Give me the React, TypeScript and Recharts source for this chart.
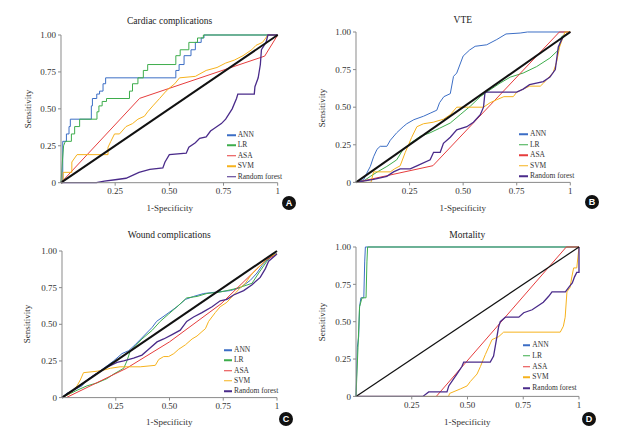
import React from "react";
import { LineChart, Line, XAxis, YAxis } from "recharts";

type Pt = [number, number];

// Cardiac complications
const cardiacANN: Pt[] = [[0,0],[0.008,0],[0.008,0.28],[0.025,0.28],[0.025,0.33],[0.037,0.33],[0.037,0.38],[0.043,0.38],[0.043,0.43],[0.14,0.43],[0.14,0.52],[0.145,0.52],[0.145,0.57],[0.165,0.57],[0.165,0.6],[0.178,0.6],[0.178,0.62],[0.194,0.62],[0.194,0.67],[0.206,0.67],[0.206,0.71],[0.53,0.71],[0.53,0.76],[0.545,0.76],[0.545,0.8],[0.568,0.8],[0.568,0.86],[0.6,0.86],[0.6,0.9],[0.62,0.9],[0.62,0.95],[0.647,0.95],[0.647,0.98],[0.66,0.98],[0.66,1],[1,1]];
const cardiacLR: Pt[] = [[0,0],[0.006,0.14],[0.012,0.25],[0.02,0.28],[0.048,0.28],[0.048,0.33],[0.063,0.33],[0.063,0.38],[0.086,0.38],[0.086,0.43],[0.166,0.43],[0.166,0.48],[0.175,0.48],[0.175,0.52],[0.19,0.52],[0.19,0.55],[0.21,0.55],[0.21,0.57],[0.316,0.57],[0.316,0.62],[0.33,0.62],[0.33,0.67],[0.355,0.67],[0.355,0.71],[0.38,0.71],[0.38,0.76],[0.4,0.76],[0.4,0.8],[0.53,0.8],[0.53,0.86],[0.55,0.86],[0.55,0.9],[0.59,0.9],[0.59,0.95],[0.63,0.95],[0.63,0.98],[0.657,0.98],[0.657,1],[1,1]];
const cardiacASA: Pt[] = [[0,0],[0.363,0.571],[0.94,0.857],[1,1]];
const cardiacSVM: Pt[] = [[0,0],[0.01,0],[0.01,0.07],[0.05,0.07],[0.05,0.14],[0.074,0.19],[0.217,0.19],[0.217,0.24],[0.23,0.28],[0.247,0.33],[0.27,0.33],[0.3,0.38],[0.33,0.4],[0.355,0.43],[0.385,0.45],[0.4,0.48],[0.424,0.52],[0.455,0.57],[0.485,0.62],[0.5,0.64],[0.525,0.67],[0.547,0.71],[0.62,0.72],[0.67,0.76],[0.72,0.78],[0.76,0.81],[0.8,0.83],[0.84,0.86],[0.88,0.9],[0.9,0.93],[0.93,0.95],[0.945,0.98],[0.954,1],[1,1]];
const cardiacRF: Pt[] = [[0,0],[0.163,0],[0.2,0.01],[0.25,0.02],[0.3,0.03],[0.33,0.05],[0.36,0.07],[0.41,0.09],[0.47,0.1],[0.48,0.14],[0.5,0.19],[0.578,0.2],[0.59,0.24],[0.62,0.27],[0.64,0.3],[0.67,0.31],[0.69,0.35],[0.71,0.37],[0.74,0.4],[0.76,0.43],[0.79,0.5],[0.81,0.57],[0.816,0.6],[0.892,0.6],[0.895,0.65],[0.9,0.67],[0.91,0.71],[0.92,0.8],[0.925,0.9],[0.946,0.95],[0.955,1],[1,1]];

// VTE
const vteANN: Pt[] = [[0,0],[0.036,0.018],[0.05,0.06],[0.067,0.107],[0.082,0.17],[0.098,0.22],[0.113,0.24],[0.144,0.24],[0.16,0.28],[0.19,0.33],[0.22,0.37],[0.237,0.39],[0.27,0.417],[0.315,0.44],[0.346,0.46],[0.377,0.48],[0.39,0.53],[0.41,0.57],[0.44,0.59],[0.455,0.705],[0.47,0.727],[0.5,0.84],[0.53,0.88],[0.556,0.905],[0.61,0.915],[0.657,0.95],[0.7,0.987],[0.766,0.993],[0.8,1],[1,1]];
const vteLR: Pt[] = [[0,0],[0.036,0.01],[0.067,0.04],[0.1,0.07],[0.144,0.106],[0.19,0.15],[0.22,0.22],[0.253,0.26],[0.3,0.306],[0.346,0.33],[0.39,0.36],[0.44,0.395],[0.486,0.45],[0.533,0.506],[0.58,0.57],[0.626,0.616],[0.672,0.66],[0.72,0.7],[0.78,0.727],[0.843,0.77],[0.905,0.827],[0.944,0.88],[0.96,0.97],[1,1]];
const vteASA: Pt[] = [[0,0],[0.359,0.111],[0.949,1],[1,1]];
const vteSVM: Pt[] = [[0,0],[0.07,0],[0.082,0.07],[0.16,0.07],[0.18,0.09],[0.206,0.11],[0.23,0.2],[0.26,0.3],[0.284,0.37],[0.315,0.39],[0.36,0.4],[0.408,0.42],[0.44,0.45],[0.47,0.5],[0.595,0.5],[0.626,0.53],[0.657,0.55],[0.69,0.57],[0.734,0.57],[0.75,0.6],[0.78,0.62],[0.81,0.64],[0.86,0.64],[0.875,0.66],[0.9,0.7],[0.92,0.73],[0.936,0.8],[0.95,0.9],[0.967,0.97],[0.975,1],[1,1]];
const vteRF: Pt[] = [[0,0],[0.082,0.02],[0.144,0.04],[0.175,0.07],[0.206,0.09],[0.253,0.09],[0.284,0.11],[0.346,0.15],[0.362,0.2],[0.393,0.2],[0.408,0.26],[0.44,0.3],[0.47,0.35],[0.517,0.37],[0.548,0.4],[0.58,0.45],[0.595,0.5],[0.602,0.6],[0.75,0.6],[0.78,0.62],[0.81,0.65],[0.874,0.67],[0.905,0.7],[0.93,0.75],[0.944,0.9],[0.967,0.97],[1,1]];

// Wound complications
const woundANN: Pt[] = [[0,0],[0.023,0.03],[0.054,0.05],[0.093,0.08],[0.116,0.12],[0.147,0.15],[0.194,0.2],[0.24,0.25],[0.279,0.3],[0.31,0.32],[0.34,0.36],[0.38,0.42],[0.42,0.48],[0.44,0.52],[0.488,0.57],[0.535,0.62],[0.574,0.67],[0.612,0.69],[0.659,0.71],[0.72,0.72],[0.783,0.73],[0.83,0.75],[0.876,0.8],[0.907,0.85],[0.93,0.9],[0.96,0.95],[0.98,0.98],[1,0.98]];
const woundLR: Pt[] = [[0,0],[0.07,0.05],[0.116,0.08],[0.163,0.1],[0.21,0.13],[0.24,0.16],[0.287,0.2],[0.302,0.25],[0.318,0.32],[0.34,0.35],[0.372,0.4],[0.42,0.46],[0.457,0.52],[0.496,0.57],[0.543,0.63],[0.58,0.68],[0.628,0.69],[0.674,0.71],[0.736,0.72],[0.798,0.74],[0.845,0.76],[0.884,0.78],[0.915,0.85],[0.953,0.93],[0.98,0.97],[1,0.98]];
const woundASA: Pt[] = [[0.02,0],[0.3,0.2],[0.5,0.38],[0.74,0.64],[0.95,0.94],[1,0.98]];
const woundSVM: Pt[] = [[0,0],[0.04,0.03],[0.07,0.08],[0.085,0.12],[0.1,0.17],[0.163,0.18],[0.2,0.19],[0.225,0.2],[0.27,0.21],[0.364,0.21],[0.434,0.22],[0.45,0.26],[0.473,0.28],[0.496,0.28],[0.52,0.3],[0.543,0.33],[0.574,0.36],[0.605,0.4],[0.628,0.42],[0.651,0.45],[0.667,0.47],[0.682,0.52],[0.713,0.58],[0.736,0.62],[0.767,0.65],[0.798,0.7],[0.83,0.75],[0.853,0.78],[0.876,0.83],[0.907,0.88],[0.938,0.92],[0.96,0.96],[1,0.98]];
const woundRF: Pt[] = [[0,0],[0.054,0.05],[0.1,0.1],[0.147,0.15],[0.2,0.2],[0.256,0.24],[0.287,0.25],[0.333,0.27],[0.372,0.29],[0.403,0.33],[0.442,0.38],[0.473,0.4],[0.512,0.43],[0.55,0.46],[0.58,0.52],[0.612,0.55],[0.651,0.58],[0.698,0.62],[0.736,0.66],[0.767,0.67],[0.798,0.7],[0.845,0.73],[0.884,0.77],[0.922,0.82],[0.946,0.88],[0.961,0.93],[1,0.98]];

// Mortality
const mortANN: Pt[] = [[0,0],[0.006,0.33],[0.012,0.4],[0.016,0.6],[0.022,0.66],[0.035,0.66],[0.039,0.9],[0.042,1],[1,1]];
const mortLR: Pt[] = [[0,0],[0.009,0.33],[0.016,0.6],[0.027,0.66],[0.045,0.66],[0.049,0.9],[0.052,1],[1,1]];
const mortASA: Pt[] = [[0.36,0],[0.943,1],[1,1]];
const mortSVM: Pt[] = [[0,0],[0.415,0],[0.42,0.02],[0.468,0.05],[0.498,0.07],[0.513,0.1],[0.543,0.15],[0.558,0.2],[0.58,0.28],[0.595,0.33],[0.61,0.38],[0.64,0.4],[0.662,0.43],[0.916,0.43],[0.93,0.47],[0.938,0.53],[0.946,0.7],[0.96,0.73],[0.968,0.8],[0.976,0.86],[0.99,0.86],[1,1]];
const mortRF: Pt[] = [[0,0],[0.3,0],[0.326,0.03],[0.408,0.03],[0.416,0.07],[0.43,0.1],[0.453,0.15],[0.475,0.2],[0.483,0.23],[0.602,0.23],[0.617,0.27],[0.632,0.4],[0.64,0.47],[0.647,0.5],[0.67,0.53],[0.73,0.53],[0.752,0.56],[0.79,0.58],[0.81,0.6],[0.84,0.63],[0.864,0.67],[0.879,0.7],[0.939,0.7],[0.954,0.73],[0.97,0.76],[0.98,0.8],[0.99,0.83],[1,0.83],[1,1]];

const diagonal: Pt[] = [[0,0],[1,1]];

const seriesNames = ["ANN", "LR", "ASA", "SVM", "Random forest"];
const seriesColors = ["#3b6dc5", "#3dad4b", "#e63c3c", "#f6b21c", "#4a2b8a"];
const xTicks = [0.25, 0.5, 0.75, 1];
const yTicks = [0, 0.25, 0.5, 0.75, 1];

const FONT = '"Liberation Serif", "Times New Roman", "DejaVu Serif", serif';
const AXIS = "#8a8a8a";

const toPts = (arr: Pt[]) => arr.map(([x, y]) => ({ x, y }));

type PanelProps = {
  title: string;
  letter: string;
  series: Pt[][];
  plot: { l: number; r: number; t: number; b: number };
  titleY: number;
  xLabelY: number;
  yLabelX: number;
  legend: { x: number; y: number; dy: number; line: number };
  letterPos: { x: number; y: number };
  diagWidth: number;
};

function Panel(p: PanelProps) {
  const { plot } = p;
  const yw = 30, xh = 20;
  const left = plot.l - yw - 2;
  const top = plot.t - 5;
  const width = plot.r + 5 - left;
  const height = plot.b + xh + 2 - top;
  const cx = (plot.l + plot.r) / 2;
  const cy = (plot.t + plot.b) / 2;
  const txt: React.CSSProperties = { position: "absolute", fontFamily: FONT, color: "#333", whiteSpace: "nowrap", lineHeight: 1 };
  return (
    <>
      <div style={{ position: "absolute", left, top }}>
        <LineChart width={width} height={height} margin={{ top: 5, right: 5, bottom: 2, left: 2 }}>
          <XAxis type="number" dataKey="x" domain={[0, 1]} ticks={xTicks} height={xh}
            tickFormatter={(v: number) => (v === 1 ? "1" : v.toFixed(2))}
            stroke={AXIS} tickSize={3} tickMargin={2}
            tick={{ fill: "#333", fontSize: 9, fontFamily: FONT }} />
          <YAxis type="number" dataKey="y" domain={[0, 1]} ticks={yTicks} width={yw}
            tickFormatter={(v: number) => (v === 0 ? "0" : v.toFixed(2))}
            stroke={AXIS} tickSize={3} tickMargin={2}
            tick={{ fill: "#333", fontSize: 9, fontFamily: FONT }} />
          {p.series.map((s, i) => (
            <Line key={seriesNames[i]} data={toPts(s)} dataKey="y" type="linear" stroke={seriesColors[i]}
              strokeWidth={i === 4 ? 1.3 : 1} dot={false} isAnimationActive={false} />
          ))}
          <Line data={toPts(diagonal)} dataKey="y" type="linear" stroke="#111" strokeWidth={p.diagWidth}
            dot={false} isAnimationActive={false} />
        </LineChart>
      </div>
      <div style={{ ...txt, left: cx, top: p.titleY, transform: "translate(-50%,-50%)", fontSize: 9.5, color: "#222" }}>{p.title}</div>
      <div style={{ ...txt, left: cx, top: p.xLabelY, transform: "translate(-50%,-50%)", fontSize: 9 }}>1-Specificity</div>
      <div style={{ ...txt, left: p.yLabelX, top: cy, transform: "translate(-50%,-50%) rotate(-90deg)", fontSize: 9 }}>Sensitivity</div>
      {seriesNames.map((n, i) => (
        <div key={n} style={{ ...txt, left: p.legend.x, top: p.legend.y + i * p.legend.dy, transform: "translateY(-50%)", fontSize: 7.5, display: "flex", alignItems: "center" }}>
          <span style={{ display: "inline-block", width: p.legend.line, height: 1.5, background: seriesColors[i], marginRight: 2 }} />
          {n}
        </div>
      ))}
      <div style={{ position: "absolute", left: p.letterPos.x - 7, top: p.letterPos.y - 7, width: 14, height: 14, borderRadius: "50%", background: "#111", color: "#fff", fontFamily: '"Liberation Sans", Arial, sans-serif', fontWeight: 700, fontSize: 9, display: "flex", alignItems: "center", justifyContent: "center" }}>{p.letter}</div>
    </>
  );
}

export default function App() {
  return (
    <div style={{ position: "absolute", left: 0, top: 0, width: 626, height: 434, background: "#fff", overflow: "hidden" }}>
      <Panel title="Cardiac complications" letter="A" series={[cardiacANN, cardiacLR, cardiacASA, cardiacSVM, cardiacRF]}
        plot={{ l: 61.3, r: 278, t: 35.3, b: 183 }} titleY={21.7} xLabelY={208} yLabelX={28.3}
        legend={{ x: 226.7, y: 135, dy: 10.4, line: 9 }} letterPos={{ x: 289, y: 203 }} diagWidth={2} />
      <Panel title="VTE" letter="B" series={[vteANN, vteLR, vteASA, vteSVM, vteRF]}
        plot={{ l: 355.7, r: 570, t: 32.3, b: 182.7 }} titleY={20.7} xLabelY={208.3} yLabelX={321.7}
        legend={{ x: 519, y: 134, dy: 10.5, line: 9 }} letterPos={{ x: 592, y: 201.7 }} diagWidth={2} />
      <Panel title="Wound complications" letter="C" series={[woundANN, woundLR, woundASA, woundSVM, woundRF]}
        plot={{ l: 61.7, r: 276.7, t: 250.7, b: 397.3 }} titleY={235.7} xLabelY={422.3} yLabelX={27.3}
        legend={{ x: 224, y: 350, dy: 10.25, line: 8 }} letterPos={{ x: 286, y: 419 }} diagWidth={2} />
      <Panel title="Mortality" letter="D" series={[mortANN, mortLR, mortASA, mortSVM, mortRF]}
        plot={{ l: 355.7, r: 578.7, t: 247.3, b: 396.7 }} titleY={235.7} xLabelY={422.3} yLabelX={321.7}
        legend={{ x: 523.3, y: 345, dy: 10.75, line: 7 }} letterPos={{ x: 589, y: 419 }} diagWidth={1.2} />
    </div>
  );
}
